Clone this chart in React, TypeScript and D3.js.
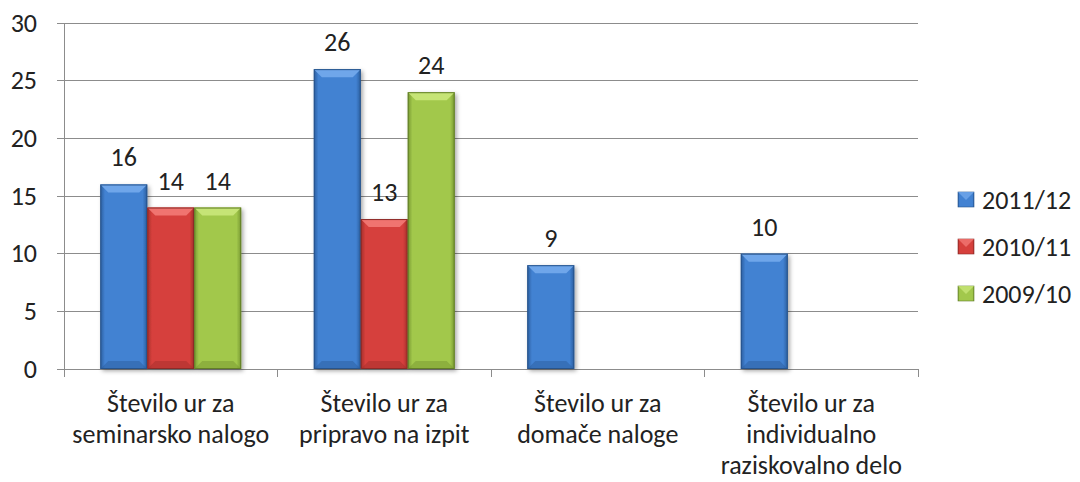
import { useEffect, useRef } from 'react';
import * as d3 from 'd3';

const categories = [
  ['Število ur za', 'seminarsko nalogo'],
  ['Število ur za', 'pripravo na izpit'],
  ['Število ur za', 'domače naloge'],
  ['Število ur za', 'individualno', 'raziskovalno delo'],
];
const seriesNames = ['2011/12', '2010/11', '2009/10'];
const values2011 = [16, 26, 9, 10];
const values2010: (number | null)[] = [14, 13, null, null];
const values2009: (number | null)[] = [14, 24, null, null];
const yTicks = [0, 5, 10, 15, 20, 25, 30];

// base, light, dark per series
const palette = [
  { base: '#4282d2', light: '#6fa6ea', dark: '#2b5d9e', edge: '#27548c' },
  { base: '#d6403c', light: '#f07470', dark: '#a32e2b', edge: '#8c2a27' },
  { base: '#a2c84c', light: '#c6e476', dark: '#779832', edge: '#627e28' },
];

const font = 'Carlito, Calibri, Lato, "Open Sans", sans-serif';

export default function App() {
  const ref = useRef<SVGSVGElement>(null);

  useEffect(() => {
    if (!ref.current) return;
    const W = 1080, H = 482;
    const left = 64, right = 918, top = 23, bottom = 369;

    const svg = d3.select(ref.current);
    svg.selectAll('*').remove();
    svg.attr('width', W).attr('height', H).attr('viewBox', `0 0 ${W} ${H}`);

    const defs = svg.append('defs');
    palette.forEach((p, i) => {
      const g = defs.append('linearGradient').attr('id', `grad${i}`)
        .attr('x1', '0').attr('x2', '1').attr('y1', '0').attr('y2', '0');
      g.append('stop').attr('offset', '0').attr('stop-color', p.dark);
      g.append('stop').attr('offset', '0.1').attr('stop-color', p.base);
      g.append('stop').attr('offset', '0.9').attr('stop-color', p.base);
      g.append('stop').attr('offset', '1').attr('stop-color', p.dark);
    });
    const f = defs.append('filter').attr('id', 'shadow').attr('x', '-20%').attr('y', '-10%')
      .attr('width', '150%').attr('height', '130%');
    f.append('feDropShadow').attr('dx', 2).attr('dy', 2).attr('stdDeviation', 2)
      .attr('flood-color', '#000').attr('flood-opacity', 0.35);

    const y = d3.scaleLinear().domain([0, 30]).range([bottom, top]);
    const x0 = d3.scaleBand<number>().domain(d3.range(categories.length))
      .range([left, right]).paddingInner(0.34).paddingOuter(0.17);
    const x1 = d3.scaleBand<number>().domain(d3.range(seriesNames.length))
      .range([0, x0.bandwidth()]).padding(0);

    // gridlines
    svg.append('g').selectAll('line').data(yTicks.filter(t => t > 0)).enter().append('line')
      .attr('x1', left - 7).attr('x2', right).attr('y1', d => y(d)).attr('y2', d => y(d))
      .attr('stroke', '#8c8c8c').attr('stroke-width', 1).attr('shape-rendering', 'crispEdges');

    // y axis
    svg.append('line').attr('x1', left).attr('x2', left).attr('y1', top).attr('y2', bottom)
      .attr('stroke', '#8c8c8c').attr('shape-rendering', 'crispEdges');
    svg.append('line').attr('x1', left - 7).attr('x2', left).attr('y1', bottom).attr('y2', bottom)
      .attr('stroke', '#8c8c8c').attr('shape-rendering', 'crispEdges');
    svg.append('g').selectAll('text').data(yTicks).enter().append('text')
      .attr('x', 37).attr('y', d => y(d)).attr('dy', '0.33em')
      .attr('text-anchor', 'end').attr('font-family', font).attr('font-size', 26)
      .attr('fill', '#222').text(d => d);

    // x axis
    svg.append('line').attr('x1', left).attr('x2', right).attr('y1', bottom).attr('y2', bottom)
      .attr('stroke', '#8c8c8c').attr('shape-rendering', 'crispEdges');
    const step = x0.step();
    svg.append('g').selectAll('line').data(d3.range(categories.length + 1)).enter().append('line')
      .attr('x1', d => left + d * step).attr('x2', d => left + d * step)
      .attr('y1', bottom).attr('y2', bottom + 8)
      .attr('stroke', '#8c8c8c').attr('shape-rendering', 'crispEdges');

    const catG = svg.append('g');
    categories.forEach((lines, i) => {
      const cx = (x0(i) ?? 0) + x0.bandwidth() / 2;
      const t = catG.append('text').attr('text-anchor', 'middle').attr('font-family', font)
        .attr('font-size', 26).attr('fill', '#222');
      lines.forEach((l, j) => {
        t.append('tspan').attr('x', cx).attr('y', 412 + j * 31).text(l);
      });
    });

    const allSeries = [values2011, values2010, values2009];
    const barsG = svg.append('g');
    allSeries.forEach((vals, s) => {
      const p = palette[s];
      vals.forEach((v, i) => {
        if (v == null) return;
        const bx = (x0(i) ?? 0) + (x1(s) ?? 0);
        const bw = x1.bandwidth();
        const by = y(v);
        const bh = bottom - by;
        const g = barsG.append('g');
        g.append('rect').attr('x', bx).attr('y', by).attr('width', bw).attr('height', bh)
          .attr('fill', `url(#grad${s})`).attr('filter', 'url(#shadow)');
        const b = 8;
        // top bevel
        g.append('path')
          .attr('d', `M${bx},${by} L${bx + bw},${by} L${bx + bw - b},${by + b} L${bx + b},${by + b} Z`)
          .attr('fill', p.light);
        // bottom bevel
        g.append('path')
          .attr('d', `M${bx},${bottom} L${bx + bw},${bottom} L${bx + bw - b},${bottom - b} L${bx + b},${bottom - b} Z`)
          .attr('fill', p.dark).attr('opacity', 0.5);
        g.append('rect').attr('x', bx + 0.5).attr('y', by + 0.5).attr('width', bw - 1).attr('height', bh - 1)
          .attr('fill', 'none').attr('stroke', p.edge).attr('stroke-width', 1);
        barsG.append('text').attr('x', bx + bw / 2).attr('y', by - 18)
          .attr('text-anchor', 'middle').attr('font-family', font).attr('font-size', 26)
          .attr('fill', '#222').text(v);
      });
    });

    // legend
    const legY = [200, 247, 294];
    seriesNames.forEach((name, s) => {
      const p = palette[s];
      const cy = legY[s];
      const lg = svg.append('g');
      lg.append('rect').attr('x', 958).attr('y', cy - 8).attr('width', 16).attr('height', 15)
        .attr('fill', `url(#grad${s})`).attr('stroke', p.edge).attr('stroke-width', 0.6);
      lg.append('path')
        .attr('d', `M958,${cy - 8} L974,${cy - 8} L966,${cy} Z`)
        .attr('fill', p.light).attr('opacity', 0.85);
      lg.append('text').attr('x', 982).attr('y', cy).attr('dy', '0.33em')
        .attr('font-family', font).attr('font-size', 26).attr('fill', '#222').text(name);
    });
  }, []);

  return (
    <div style={{ margin: -8 }}>
      <svg ref={ref} style={{ display: 'block', background: '#fff' }} />
    </div>
  );
}
